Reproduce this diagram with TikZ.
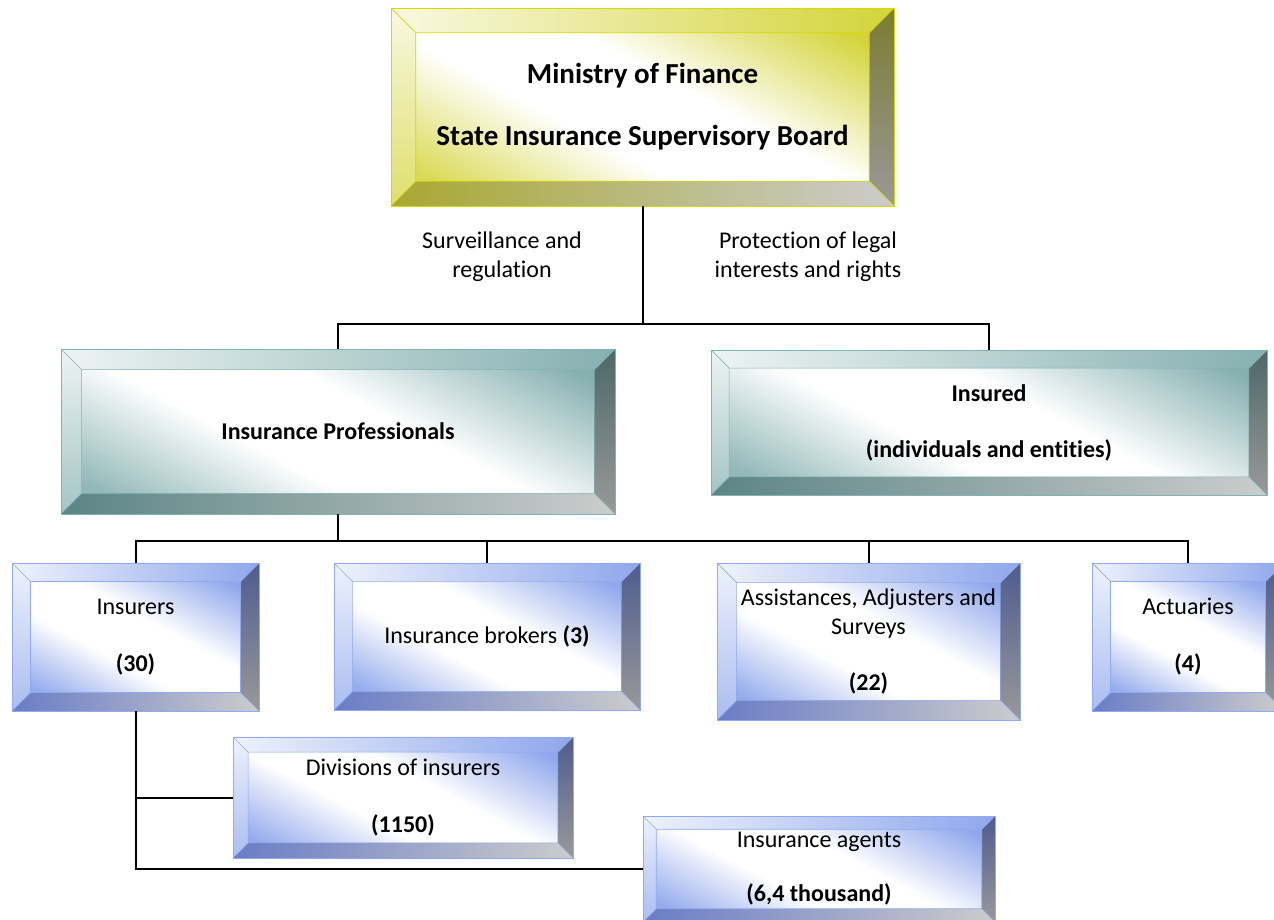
\documentclass[tikz,border=0pt]{standalone}
\usepackage{fontspec}
\setmainfont{Carlito}[Ligatures=NoCommon]
\usetikzlibrary{calc}

% bevel palettes: main face colour, dark side, low side, outline
\definecolor{yelmain}{HTML}{D4D43A}
\definecolor{yeldark}{HTML}{7C7C30}
\definecolor{yellow}{HTML}{A8A832}
\definecolor{yelline}{HTML}{D8D800}
\definecolor{teamain}{HTML}{86B0B0}
\definecolor{teadark}{HTML}{4D6868}
\definecolor{tealow}{HTML}{5C8585}
\definecolor{tealine}{HTML}{80B4B4}
\definecolor{blumain}{HTML}{8FA7EC}
\definecolor{bludark}{HTML}{4E5C8E}
\definecolor{blulow}{HTML}{6A7CC6}
\definecolor{bluline}{HTML}{8FAAF0}

% face shadings: colour at both diagonal corners, broad white middle
\pgfdeclarehorizontalshading{faceyel}{100bp}{color(0bp)=(yelmain!85);
  color(18bp)=(yelmain!85); color(40bp)=(white); color(57bp)=(white);
  color(82bp)=(yelmain); color(100bp)=(yelmain)}
\pgfdeclarehorizontalshading{facetea}{100bp}{color(0bp)=(teamain!90);
  color(18bp)=(teamain!90); color(40bp)=(white); color(57bp)=(white);
  color(82bp)=(teamain); color(100bp)=(teamain)}
\pgfdeclarehorizontalshading{faceblu}{100bp}{color(0bp)=(blumain!95);
  color(18bp)=(blumain!95); color(40bp)=(white); color(57bp)=(white);
  color(82bp)=(blumain); color(100bp)=(blumain)}

\newcommand\bevelfaces[1]{%
  \path let \p1=(path picture bounding box.south west),
            \p2=(path picture bounding box.north east),
            \n1={0.125*min(\x2-\x1,\y2-\y1)} in
    (\x1,\y1) coordinate (o1) (\x1,\y2) coordinate (o2)
    (\x2,\y2) coordinate (o3) (\x2,\y1) coordinate (o4)
    (\x1+\n1,\y1+\n1) coordinate (i1) (\x1+\n1,\y2-\n1) coordinate (i2)
    (\x2-\n1,\y2-\n1) coordinate (i3) (\x2-\n1,\y1+\n1) coordinate (i4);
  \shade[shading=face#1, shading angle=62] (i1) rectangle (i3);
  \shade[left color=white!85!#1main, right color=#1main] (o2) -- (o3) -- (i3) -- (i2) -- cycle;
  \shade[top color=white!85!#1main, bottom color=#1main!75!white] (o1) -- (o2) -- (i2) -- (i1) -- cycle;
  \shade[top color=#1dark, bottom color=black!40] (o3) -- (o4) -- (i4) -- (i3) -- cycle;
  \shade[left color=#1low, right color=black!20] (o1) -- (o4) -- (i4) -- (i1) -- cycle;
  \draw[#1line, line width=0.7pt] (i1) rectangle (i3)
    (o1) -- (i1) (o2) -- (i2) (o3) -- (i3) (o4) -- (i4);
}

\tikzset{
  bevelbox/.style={draw=#1line, line width=0.8pt, inner sep=0pt, align=center,
    font=\fontsize{24}{29}\selectfont, path picture={\bevelfaces{#1}}},
  link/.style={line width=2pt},
  note/.style={align=center, font=\fontsize{24}{29}\selectfont},
}

\begin{document}
\begin{tikzpicture}[x=1pt, y=-1pt]
\useasboundingbox (0,0) rectangle (1274,920);

% top level
\node[bevelbox=yel, minimum width=503pt, minimum height=198pt,
  font=\bfseries\fontsize{29}{31}\selectfont] (mof) at (642.5,107)
  {Ministry of Finance\\[31pt]State Insurance Supervisory Board};

\node[note] (surv) at (502,257) {Surveillance and\\regulation};
\node[note] (prot) at (808,257) {Protection of legal\\interests and rights};

% second level
\node[bevelbox=tea, minimum width=554pt, minimum height=165pt,
  font=\bfseries\fontsize{24}{29}\selectfont] (pro) at (338,431.5) {Insurance Professionals};
\node[bevelbox=tea, minimum width=556pt, minimum height=145pt,
  font=\bfseries\fontsize{24}{29}\selectfont] (ins) at (989,422.5)
  {Insured\\[27pt](individuals and entities)};

% third level
\node[bevelbox=blu, minimum width=247pt, minimum height=148pt] (insurers) at (135.5,637)
  {Insurers\\[28pt]\textbf{(30)}};
\node[bevelbox=blu, minimum width=306pt, minimum height=147pt] (brokers) at (487,636.5)
  {Insurance brokers \textbf{(3)}};
\node[bevelbox=blu, minimum width=303pt, minimum height=157pt] (assist) at (868.5,641.5)
  {Assistances, Adjusters and\\Surveys\\[27pt]\textbf{(22)}};
\node[bevelbox=blu, minimum width=192pt, minimum height=148pt] (actu) at (1188,637)
  {Actuaries\\[28pt]\textbf{(4)}};

% under insurers
\node[bevelbox=blu, minimum width=340pt, minimum height=121pt] (divs) at (403,797.5)
  {Divisions of insurers\\[28pt]\textbf{(1150)}};
\node[bevelbox=blu, minimum width=352pt, minimum height=106pt] (agents) at (819,869)
  {Insurance agents\\[25pt]\textbf{(6,4 thousand)}};

% connectors
\draw[link] (mof.south) -- ++(0,118) coordinate (j1);
\draw[link] (pro.north) |- (j1) -| (ins.north);
\draw[link] (pro.south) -- ++(0,27) coordinate (j2);
\draw[link] (insurers.north) |- (j2) -| (actu.north);
\draw[link] (brokers.north) -- (brokers.north |- j2);
\draw[link] (assist.north) -- (assist.north |- j2);
\draw[link] (insurers.south) |- (agents.west);
\draw[link] (insurers.south |- divs.west) -- (divs.west);
\end{tikzpicture}
\end{document}
